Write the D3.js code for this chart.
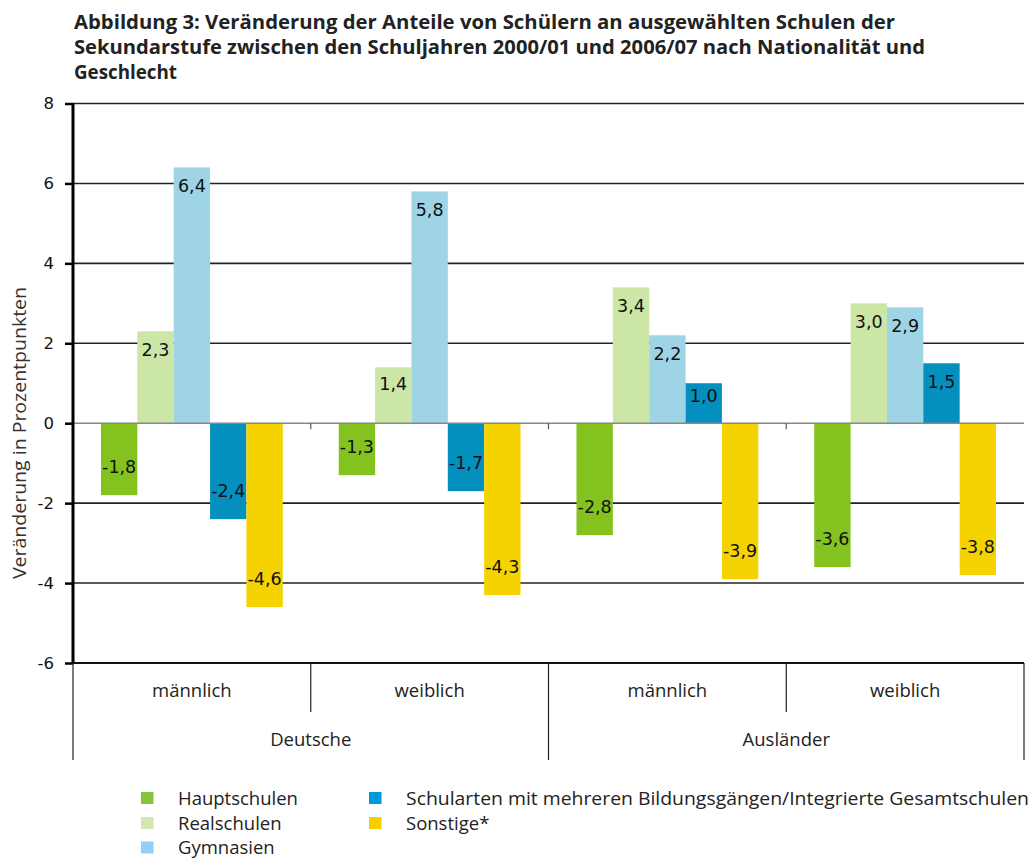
<!DOCTYPE html>
<html><head><meta charset="utf-8">
<script src="https://cdn.jsdelivr.net/npm/d3@7"></script>
<style>
html,body{margin:0;padding:0;background:#fff;}
svg{display:block;}
</style></head>
<body>
<svg id="chart" width="1032" height="859"></svg>
<script>
const titleLines = [
  "Abbildung 3: Veränderung der Anteile von Schülern an ausgewählten Schulen der",
  "Sekundarstufe zwischen den Schuljahren 2000/01 und 2006/07 nach Nationalität und",
  "Geschlecht"
];
const nationalities = ["Deutsche", "Ausländer"];
const genders = ["männlich", "weiblich"];
const schools = ["Hauptschulen", "Realschulen", "Gymnasien", "Schularten mit mehreren Bildungsgängen/Integrierte Gesamtschulen", "Sonstige*"];
const colors = ["#84c31f", "#cce6a6", "#9ed4e6", "#0390bf", "#f5d300"];
const legendColors = ["#86c440", "#d0e8b0", "#94d0f0", "#0099d8", "#f5cf00"];
// values per school, for each nationality/gender group
const deutscheMaennlich = [-1.8, 2.3, 6.4, -2.4, -4.6];
const deutscheWeiblich = [-1.3, 1.4, 5.8, -1.7, -4.3];
const auslaenderMaennlich = [-2.8, 3.4, 2.2, 1.0, -3.9];
const auslaenderWeiblich = [-3.6, 3.0, 2.9, 1.5, -3.8];
const yTicks = [8, 6, 4, 2, 0, -2, -4, -6];
const yLabel = "Veränderung in Prozentpunkten";

const groups = [
  {nat: "Deutsche", gen: "männlich", values: deutscheMaennlich},
  {nat: "Deutsche", gen: "weiblich", values: deutscheWeiblich},
  {nat: "Ausländer", gen: "männlich", values: auslaenderMaennlich},
  {nat: "Ausländer", gen: "weiblich", values: auslaenderWeiblich}
];
groups.forEach(g => g.key = g.nat + "|" + g.gen);

const svg = d3.select("#chart");
const X0 = 73, X1 = 1024, Y0 = 663, Y1 = 103.5;

const y = d3.scaleLinear().domain([-6, 8]).range([Y0, Y1]);
const x0 = d3.scaleBand().domain(groups.map(g => g.key)).range([X0, X1]).padding(0);
const x1 = d3.scaleBand().domain(schools).range([0, x0.bandwidth()]).paddingInner(0).paddingOuter(0.77);
const xNat = d3.scaleBand().domain(nationalities).range([X0, X1]).padding(0);

const fmt = v => d3.format(".1f")(v).replace(".", ",").replace("\u2212", "-");

// title
const title = svg.append("g");
const tw = [821, 851, null];
titleLines.forEach((t, i) => {
  const el = title.append("text")
    .attr("x", 74).attr("y", 28.5 + i * 25)
    .attr("font-family", "'Open Sans', sans-serif")
    .attr("font-weight", "bold")
    .attr("font-size", 18.8)
    .attr("fill", "#222")
    .text(t);
  if (tw[i]) el.attr("textLength", tw[i]).attr("lengthAdjust", "spacingAndGlyphs");
});

// gridlines
svg.append("g").selectAll("line").data(yTicks.filter(t => t !== 0 && t !== -6)).join("line")
  .attr("x1", X0).attr("x2", X1).attr("y1", d => y(d)).attr("y2", d => y(d))
  .attr("stroke", "#222").attr("stroke-width", 1.6);

// bars
const gBars = svg.append("g");
groups.forEach(g => {
  const gg = gBars.append("g").attr("transform", `translate(${x0(g.key)},0)`);
  const rows = g.values.map((v, i) => ({v, s: schools[i], i}));
  gg.selectAll("rect").data(rows).join("rect")
    .attr("x", d => x1(d.s))
    .attr("width", x1.bandwidth())
    .attr("y", d => y(Math.max(0, d.v)))
    .attr("height", d => Math.abs(y(d.v) - y(0)))
    .attr("fill", d => colors[d.i]);
  gg.selectAll("text").data(rows).join("text")
    .attr("x", d => x1(d.s) + x1.bandwidth() / 2)
    .attr("y", d => {
      const h = Math.abs(y(d.v) - y(0));
      return d.v >= 0 ? y(d.v) + Math.min(18, 0.3 * h) : y(d.v) - 28;
    })
    .attr("dy", "0.36em")
    .attr("text-anchor", "middle")
    .attr("font-family", "'DejaVu Sans', sans-serif")
    .attr("font-size", 17.5)
    .attr("fill", "#111")
    .text(d => fmt(d.v));
});

// zero line
svg.append("line").attr("x1", X0).attr("x2", X1).attr("y1", y(0)).attr("y2", y(0))
  .attr("stroke", "#888").attr("stroke-width", 1.5);
svg.append("g").selectAll("line").data(groups.slice(1).map(g => x0(g.key))).join("line")
  .attr("x1", d => d).attr("x2", d => d).attr("y1", y(0)).attr("y2", y(0) + 6)
  .attr("stroke", "#555").attr("stroke-width", 1.2);

// bottom axis line
svg.append("line").attr("x1", X0).attr("x2", X1).attr("y1", Y0).attr("y2", Y0)
  .attr("stroke", "#111").attr("stroke-width", 1.8);

// y axis
const yAxis = d3.axisLeft(y).tickValues(yTicks).tickSize(8).tickPadding(11).tickFormat(d => String(d));
const ya = svg.append("g").attr("transform", `translate(${X0},0)`).call(yAxis);
ya.select(".domain").attr("stroke", "#000").attr("stroke-width", 3).attr("d", `M0,${Y1}V${Y0}`);
ya.selectAll(".tick line").attr("stroke", "#000").attr("stroke-width", 2.5);
ya.selectAll(".tick text").attr("font-family", "'DejaVu Sans', sans-serif").attr("font-size", 16.5).attr("fill", "#111");

// y label
svg.append("text")
  .attr("transform", `translate(26,433) rotate(-90)`)
  .attr("text-anchor", "middle")
  .attr("font-family", "'Open Sans', sans-serif")
  .attr("font-size", 17.5)
  .attr("fill", "#333")
  .attr("textLength", 292).attr("lengthAdjust", "spacingAndGlyphs")
  .text(yLabel);

// category axis (two levels)
const cat = svg.append("g");
const bounds = groups.map(g => x0(g.key)).concat([X1]);
cat.selectAll("line.short").data([bounds[1], bounds[3]]).join("line")
  .attr("class", "short")
  .attr("x1", d => d).attr("x2", d => d).attr("y1", Y0).attr("y2", 712)
  .attr("stroke", "#222").attr("stroke-width", 1.2);
cat.selectAll("line.long").data([bounds[0], bounds[2], bounds[4]]).join("line")
  .attr("class", "long")
  .attr("x1", d => d).attr("x2", d => d).attr("y1", Y0).attr("y2", 760)
  .attr("stroke", "#222").attr("stroke-width", 1.2);
cat.selectAll("text.gen").data(groups).join("text")
  .attr("class", "gen")
  .attr("x", d => x0(d.key) + x0.bandwidth() / 2)
  .attr("y", 697)
  .attr("text-anchor", "middle")
  .attr("font-family", "'Open Sans', sans-serif")
  .attr("font-size", 18.5)
  .attr("fill", "#222")
  .text(d => d.gen);
cat.selectAll("text.nat").data(nationalities).join("text")
  .attr("class", "nat")
  .attr("x", d => xNat(d) + xNat.bandwidth() / 2)
  .attr("y", 746)
  .attr("text-anchor", "middle")
  .attr("font-family", "'Open Sans', sans-serif")
  .attr("font-size", 18.5)
  .attr("fill", "#222")
  .text(d => d);

// legend
const legendPos = [
  {x: 141, y: 792}, {x: 141, y: 817}, {x: 141, y: 841.5},
  {x: 369, y: 792}, {x: 369, y: 817}
];
const lg = svg.append("g");
schools.forEach((s, i) => {
  const p = legendPos[i];
  lg.append("rect").attr("x", p.x).attr("y", p.y).attr("width", 12.5).attr("height", 12)
    .attr("fill", legendColors[i]);
  const t = lg.append("text").attr("x", p.x + 37).attr("y", p.y + 12.5)
    .attr("font-family", "'Open Sans', sans-serif")
    .attr("font-size", 18.5)
    .attr("fill", "#222")
    .text(s);
  if (i === 3) t.attr("textLength", 623).attr("lengthAdjust", "spacingAndGlyphs");
});
</script>
</body></html>
